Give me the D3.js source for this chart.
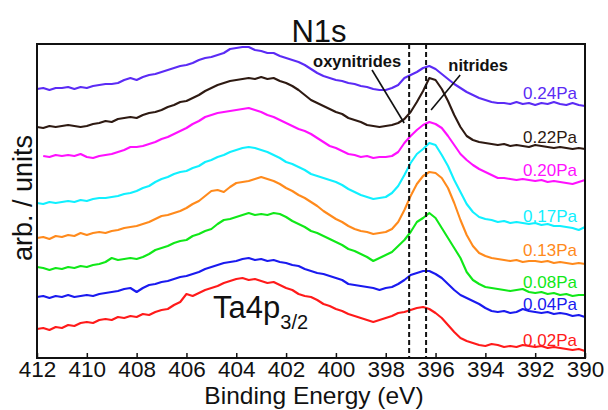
<!DOCTYPE html>
<html>
<head>
<meta charset="utf-8">
<script src="https://cdn.jsdelivr.net/npm/d3@7"></script>
<style>
  html, body { margin: 0; padding: 0; background: #fff; }
  svg { display: block; font-family: "Liberation Sans", Arial, sans-serif; }
</style>
</head>
<body>
<svg id="chart" width="608" height="410"></svg>
<script>
// ---- data (binding energy in eV, intensity in arb. units, offset per spectrum) ----
const energyStart = 412, energyEnd = 390, energyStep = 0.25;
const xTicks = [412, 410, 408, 406, 404, 402, 400, 398, 396, 394, 392, 390];
const pressures = ["0.24Pa", "0.22Pa", "0.20Pa", "0.17Pa", "0.13Pa", "0.08Pa", "0.04Pa", "0.02Pa"];
const colors = ["#5b2bf5", "#2e1a12", "#ff10ff", "#10f0ff", "#ff8a1c", "#10e818", "#1a1aef", "#ff1a1a"];
const labelValues = [259, 215, 182, 136, 102, 70, 48, 12];

const s024 = [269,270,268,270, 270,271,269,271, 270,272,273,274, 274,275,278,280, 278,281,283,284, 286,288,290,292, 293,295,298,300, 301,303,305,309, 310,311,311,308, 307,305,305,302, 300,298,296,293, 289,285,282,280, 278,277,275,274, 272,271,269,268, 268,270,273,280, 283,286,290,292, 289,284,279,274, 270,266,263,260, 258,256,255,255, 254,256,254,255, 253,255,254,256, 254,253,255,253, 252];
const s022 = [231,230,232,231, 232,233,232,231, 232,234,235,237, 236,239,240,241, 240,243,245,246, 248,251,253,256, 257,260,263,267, 270,273,275,277, 278,279,280,279, 281,279,280,277, 275,272,268,263, 258,255,252,249, 246,244,240,238, 236,233,232,231, 232,233,235,239, 246,256,267,280, 278,269,257,243, 231,222,218,216, 215,214,213,214, 212,213,212,211, 213,212,211,210, 211,210,209,210, 209];
const s020 = [null,202,201,203, 202,203,202,204, 201,200,202,203, 204,206,208,211, 211,212,214,216, 219,221,224,227, 230,234,237,241, 243,245,246,247, 248,249,250,248, 246,243,241,238, 235,232,229,227, 224,220,216,212, 210,207,204,203, 201,202,200,201, 201,202,206,215, 222,228,233,236, 234,230,222,213, 204,198,193,189, 186,183,180,180, 179,178,179,178, 177,178,176,177, 176,175,174,176, 178];
const s017 = [155,154,156,155, 156,157,156,158, 157,159,160,160, 161,162,164,165, 167,170,172,176, 179,181,184,186, 187,190,192,196, 198,201,203,206, 208,210,211,210, 208,206,203,200, 196,194,191,188, 184,182,180,178, 176,173,169,166, 163,161,159,160, 161,165,172,183, 195,204,209,215, 213,203,192,178, 166,154,146,141, 139,138,136,137, 135,136,135,134, 135,133,134,132, 132,131,130,128, 131];
const s013 = [120,121,119,122, 121,123,122,125, 123,125,126,125, 127,128,130,131, 132,134,136,139, 142,143,145,147, 150,154,157,162, 167,168,166,171, 175,176,177,179, 181,179,177,174, 170,167,163,160, 156,152,147,143, 139,136,132,129, 127,126,124,125, 126,129,136,148, 162,174,182,186, 185,180,170,155, 138,123,112,105, 102,100,99,98, 97,98,96,97, 97,96,97,95, 96,95,94,95, 94];
const s008 = [91,90,88,90, 89,91,90,92, 91,93,94,96, 100,98,99,100, 99,101,104,108, 110,112,115,117, 118,122,124,127, 129,134,138,139, 141,143,145,143, 144,143,145,144, 141,137,134,131, 127,125,122,119, 116,113,109,107, 104,101,97,100, 103,106,112,118, 126,136,140,145, 140,130,120,110, 100,86,78,74, 71,70,69,68, 67,68,69,66, 65,66,64,65, 63,64,62,63, 63];
const s004 = [61,62,60,62, 61,63,61,62, 63,62,64,65, 66,67,69,70, 66,70,73,74, 76,77,79,81, 82,84,86,89, 91,93,95,96, 97,99,100,98, 99,97,98,96, 95,93,92,89, 87,85,84,82, 80,78,74,73, 72,71,70,68, 70,71,74,78, 83,85,87,87, 84,80,74,68, 63,60,57,54, 50,47,46,47, 45,46,49,47, 46,45,46,44, 45,44,42,43, 41];
const s002 = [29,30,28,31, 30,33,32,35, 36,35,38,39, 38,41,40,42, 41,44,43,46, 48,49,53,56, 64,62,65,68, 70,72,75,77, 79,80,78,79, 77,75,76,73, 70,68,64,62, 61,58,54,52, 49,47,44,42, 40,38,36,38, 40,42,45,46, 48,50,51,49, 45,40,33,26, 20,17,15,13, 12,14,13,11, 12,11,13,12, 11,12,10,11, 10,9,8,9, 7];
const seriesValues = [s024, s022, s020, s017, s013, s008, s004, s002];

const peakLines = [397.06, 396.38];           // oxynitrides, nitrides
const annotations = [
  { text: "oxynitrides", E: 399.15, v: 291, line: [[398.55, 288], [397.26, 235]] },
  { text: "nitrides",    E: 394.29, v: 287, line: [[395.01, 283], [396.18, 248]] }
];
const ta4pLabel = { E: 404.93, v: 40 };

// ---- layout ----
const svg = d3.select("#chart");
const pL = 37, pR = 585, pT = 44, pB = 358;

const x = d3.scaleLinear().domain([energyStart, energyEnd]).range([pL, pR]);
const y = d3.scaleLinear().domain([0, 314]).range([pB, pT]);

const energies = seriesValues[0].map((_, i) => energyStart - i * energyStep);

// curves
const lineGen = d3.line()
  .defined(d => d[1] !== null)
  .x(d => x(d[0]))
  .y(d => y(d[1]));

const g = svg.append("g");
seriesValues.forEach((vals, k) => {
  g.append("path")
    .datum(vals.map((v, i) => [energies[i], v]))
    .attr("fill", "none")
    .attr("stroke", colors[k])
    .attr("stroke-width", 2.1)
    .attr("stroke-linejoin", "round")
    .attr("d", lineGen);
});

// dashed peak lines
svg.selectAll("line.peak").data(peakLines).enter().append("line")
  .attr("class", "peak")
  .attr("x1", d => x(d)).attr("x2", d => x(d))
  .attr("y1", pT).attr("y2", pB)
  .attr("stroke", "#111").attr("stroke-width", 2)
  .attr("stroke-dasharray", "5,3");

// annotations
annotations.forEach(a => {
  svg.append("line")
    .attr("x1", x(a.line[0][0])).attr("y1", y(a.line[0][1]))
    .attr("x2", x(a.line[1][0])).attr("y2", y(a.line[1][1]))
    .attr("stroke", "#111").attr("stroke-width", 1.6);
  svg.append("text")
    .attr("x", x(a.E)).attr("y", y(a.v))
    .attr("text-anchor", "middle")
    .attr("font-weight", "bold")
    .attr("font-size", 16.5)
    .attr("fill", "#111")
    .text(a.text);
});

// pressure labels
svg.selectAll("text.plabel").data(pressures).enter().append("text")
  .attr("class", "plabel")
  .attr("x", 577)
  .attr("y", (d, i) => y(labelValues[i]))
  .attr("text-anchor", "end")
  .attr("font-size", 17)
  .attr("fill", (d, i) => colors[i])
  .text(d => d);

// Ta4p3/2 label
const ta = svg.append("text")
  .attr("x", x(ta4pLabel.E)).attr("y", y(ta4pLabel.v))
  .attr("font-size", 31).attr("fill", "#111");
ta.append("tspan").text("Ta4p");
ta.append("tspan").attr("font-size", 20).attr("dy", 11).text("3/2");

// frame
svg.append("rect")
  .attr("x", pL).attr("y", pT)
  .attr("width", pR - pL).attr("height", pB - pT)
  .attr("fill", "none").attr("stroke", "#111").attr("stroke-width", 2);

// x axis
const xAxis = d3.axisBottom(x).tickValues(xTicks).tickSize(-5).tickPadding(3).tickFormat(d3.format("d"));
const ax = svg.append("g").attr("transform", `translate(0,${pB})`).call(xAxis);
ax.select(".domain").remove();
ax.selectAll(".tick line").attr("stroke", "#111").attr("stroke-width", 1.5);
ax.selectAll(".tick text")
  .attr("font-size", 22.5)
  .attr("font-family", "Liberation Sans, Arial, sans-serif")
  .attr("fill", "#111");

// axis titles
svg.append("text")
  .attr("x", 314).attr("y", 403.5)
  .attr("text-anchor", "middle")
  .attr("font-size", 24.5).attr("fill", "#111")
  .text("Binding Energy (eV)");

svg.append("text")
  .attr("transform", "translate(32,198) rotate(-90)")
  .attr("text-anchor", "middle")
  .attr("font-size", 27).attr("fill", "#111")
  .text("arb. / units");

svg.append("text")
  .attr("x", 319).attr("y", 42)
  .attr("text-anchor", "middle")
  .attr("font-size", 31).attr("fill", "#111")
  .text("N1s");
</script>
</body>
</html>
